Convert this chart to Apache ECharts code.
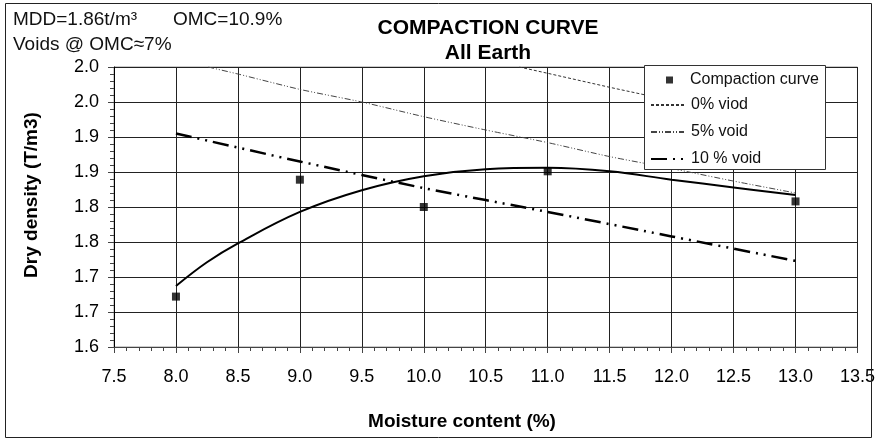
<!DOCTYPE html>
<html>
<head>
<meta charset="utf-8">
<script src="https://cdn.jsdelivr.net/npm/echarts@6/dist/echarts.min.js"></script>
<style>
  html, body { margin: 0; padding: 0; background: #fff; }
  #chart { width: 878px; height: 441px; }
</style>
</head>
<body>
<div id="chart"></div>
<script>
// Measured points (moisture %, dry density)
const testPoints = [[8.0, 1.672], [9.0, 1.839], [10.0, 1.800], [11.0, 1.851], [13.0, 1.808]]

// Fitted compaction curve
const curveX = [8.0, 8.25, 8.5, 9.0, 9.5, 10.0, 10.5, 11.0, 11.5, 12.0, 12.5, 13.0]
const curveY = [1.687, 1.721, 1.748, 1.793, 1.824, 1.844, 1.854, 1.856, 1.851, 1.839, 1.828, 1.817]

// Air-void lines
const void0X = [10.77, 11.0, 11.5, 12.0, 12.5, 13.0]
const void0Y = [2.000, 1.991, 1.971, 1.952, 1.933, 1.915]
const void5X = [8.26, 8.5, 9.0, 9.5, 10.0, 10.5, 11.0, 11.5, 12.0, 12.5, 13.0]
const void5Y = [2.000, 1.990, 1.968, 1.950, 1.929, 1.910, 1.892, 1.872, 1.855, 1.837, 1.820]
const void10X = [8.0, 9.0, 10.0, 11.0, 12.0, 13.0]
const void10Y = [1.905, 1.865, 1.827, 1.793, 1.758, 1.723]

const xTickLabels = ['7.5', '8.0', '8.5', '9.0', '9.5', '10.0', '10.5', '11.0', '11.5', '12.0', '12.5', '13.0', '13.5']
const yTickLabels = ['1.6', '1.7', '1.7', '1.8', '1.8', '1.9', '1.9', '2.0', '2.0']

const xMin = 7.5
const xStep = 0.5
const yMin = 1.6
const yStep = 0.05

const font = '"Liberation Sans", Arial, sans-serif'

function zip(xs, ys) {
  return xs.map((x, i) => [x, ys[i]])
}

const chart = echarts.init(document.getElementById('chart'), null, { renderer: 'canvas' })

chart.setOption({
  backgroundColor: '#fff',
  animation: false,
  textStyle: { fontFamily: font },
  grid: {
    left: 114,
    right: 20,
    top: 67,
    bottom: 94,
    show: true,
    borderColor: '#999',
    borderWidth: 1,
    containLabel: false,
  },
  xAxis: {
    type: 'value',
    min: xMin,
    max: 13.5,
    interval: xStep,
    axisLine: { lineStyle: { color: '#444', width: 1 } },
    axisTick: { length: 6, lineStyle: { color: '#444' } },
    minorTick: { show: true, splitNumber: 5, length: 4, lineStyle: { color: '#444' } },
    splitLine: { lineStyle: { color: '#222', width: 1 } },
    axisLabel: {
      color: '#000',
      fontSize: 18,
      margin: 21,
      formatter: v => xTickLabels[Math.round((v - xMin) / xStep)],
    },
  },
  yAxis: {
    type: 'value',
    min: yMin,
    max: 2.0,
    interval: yStep,
    axisLine: { show: true, lineStyle: { color: '#000', width: 1 } },
    axisTick: { show: true, length: 6, lineStyle: { color: '#444' } },
    minorTick: { show: true, splitNumber: 5, length: 4, lineStyle: { color: '#444' } },
    splitLine: { lineStyle: { color: '#222', width: 1 } },
    axisLabel: {
      color: '#000',
      fontSize: 18,
      margin: 15,
      formatter: v => yTickLabels[Math.round((v - yMin) / yStep)],
    },
  },
  legend: [
    {
      // marker entry
      orient: 'vertical',
      left: 666,
      top: 72,
      padding: 0,
      itemWidth: 7,
      itemHeight: 7,
      z: 5,
      textStyle: { color: '#111', fontSize: 16, fontFamily: font, padding: [0, 0, 0, 12] },
      data: ['Compaction curve'],
    },
    {
      // void line entries
      orient: 'vertical',
      left: 650,
      top: 97,
      padding: 0,
      itemWidth: 33,
      itemHeight: 14,
      itemGap: 11,
      z: 5,
      itemStyle: { opacity: 0 },
      textStyle: { color: '#111', fontSize: 16, fontFamily: font, padding: [0, 0, 0, 2] },
      data: ['0% viod', '5% void', '10 % void'],
    },
  ],
  graphic: [
    {
      type: 'rect',
      z: 4,
      shape: { x: 644.5, y: 65.5, width: 181, height: 104 },
      style: { fill: '#fff', stroke: '#333', lineWidth: 1 },
    },
    {
      type: 'rect',
      z: 10,
      silent: true,
      shape: { x: 5.5, y: 3.5, width: 866, height: 434 },
      style: { fill: 'none', stroke: '#222', lineWidth: 1 },
    },
    {
      type: 'text',
      x: 13,
      y: 20,
      style: { text: 'MDD=1.86t/m³', font: '19px ' + font, fill: '#111', verticalAlign: 'middle' },
    },
    {
      type: 'text',
      x: 173,
      y: 20,
      style: { text: 'OMC=10.9%', font: '19px ' + font, fill: '#111', verticalAlign: 'middle' },
    },
    {
      type: 'text',
      x: 13,
      y: 45,
      style: { text: 'Voids @ OMC≈7%', font: '19px ' + font, fill: '#111', verticalAlign: 'middle' },
    },
    {
      type: 'text',
      x: 488,
      y: 28,
      style: { text: 'COMPACTION CURVE', font: 'bold 21px ' + font, fill: '#000', align: 'center', verticalAlign: 'middle' },
    },
    {
      type: 'text',
      x: 488,
      y: 53,
      style: { text: 'All Earth', font: 'bold 21px ' + font, fill: '#000', align: 'center', verticalAlign: 'middle' },
    },
    {
      type: 'text',
      x: 462,
      y: 422,
      style: { text: 'Moisture content (%)', font: 'bold 19px ' + font, fill: '#000', align: 'center', verticalAlign: 'middle' },
    },
    {
      type: 'text',
      x: 32,
      y: 195,
      rotation: Math.PI / 2,
      style: { text: 'Dry density (T/m3)', font: 'bold 19px ' + font, fill: '#000', align: 'center', verticalAlign: 'middle' },
    },
  ],
  series: [
    {
      name: 'Compaction curve',
      type: 'scatter',
      data: testPoints,
      symbol: 'rect',
      symbolSize: 8,
      itemStyle: { color: '#000' },
      z: 6,
    },
    {
      name: 'fit',
      type: 'line',
      data: zip(curveX, curveY),
      smooth: 0.4,
      symbol: 'none',
      lineStyle: { color: '#000', width: 2 },
      z: 3,
    },
    {
      name: '0% viod',
      type: 'line',
      data: zip(void0X, void0Y),
      symbol: 'none',
      itemStyle: { color: '#333' },
      lineStyle: { color: '#333', width: 1, type: [3, 2] },
      z: 3,
    },
    {
      name: '5% void',
      type: 'line',
      data: zip(void5X, void5Y),
      smooth: 0.2,
      symbol: 'none',
      itemStyle: { color: '#444' },
      lineStyle: { color: '#444', width: 1, type: [6, 2, 1, 2, 1, 2] },
      z: 3,
    },
    {
      name: '10 % void',
      type: 'line',
      data: zip(void10X, void10Y),
      smooth: 0.2,
      symbol: 'none',
      itemStyle: { color: '#000' },
      lineStyle: { color: '#000', width: 2.5, type: [16, 6, 2, 6, 2, 6] },
      z: 3,
    },
  ],
})
</script>
</body>
</html>
